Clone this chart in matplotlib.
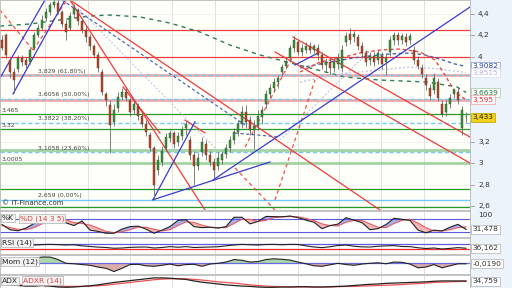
import matplotlib
matplotlib.use("Agg")
import matplotlib.pyplot as plt
import numpy as np
from matplotlib.patches import Rectangle

# ---------------- price data (one candle per session) ----------------
opens = [4.16,4.20,3.97,3.86,3.88,3.99,3.97,3.95,4.08,4.20,
         4.27,4.36,4.42,4.48,4.50,4.42,4.31,4.27,4.40,4.44,
         4.33,4.25,4.18,4.10,4.02,3.86,3.65,3.55,3.39,3.52,
         3.62,3.67,3.59,3.50,3.54,3.44,3.37,3.27,3.14,2.94,
         3.01,3.14,3.24,3.28,3.20,3.26,3.33,3.22,3.08,2.98,
         3.11,3.18,3.08,3.01,2.98,3.03,3.09,3.14,3.22,3.29,
         3.37,3.48,3.41,3.31,3.35,3.43,3.56,3.65,3.71,3.76,
         3.86,3.91,3.99,4.08,4.14,4.04,4.06,4.10,4.06,4.08,
         4.02,3.92,3.95,3.89,3.93,3.89,4.14,4.21,4.18,4.18,
         4.10,4.03,3.97,4.01,3.97,4.01,3.95,4.04,4.16,4.20,
         4.16,4.18,4.16,4.06,3.97,3.89,3.80,3.71,3.69,3.76,
         3.56,3.48,3.56,3.65,3.67,3.33,3.43]
closes = [4.08,4.02,3.86,3.78,3.99,3.95,3.92,4.06,4.20,4.27,
          4.34,4.42,4.48,4.51,4.42,4.31,4.23,4.38,4.46,4.33,
          4.25,4.18,4.10,4.02,3.89,3.67,3.59,3.36,3.50,3.62,
          3.67,3.61,3.48,3.56,3.44,3.37,3.29,3.14,2.80,3.03,
          3.12,3.25,3.28,3.18,3.26,3.31,3.37,3.08,2.98,3.05,
          3.20,3.08,3.01,2.94,3.05,3.09,3.14,3.22,3.29,3.37,
          3.48,3.39,3.31,3.35,3.44,3.50,3.65,3.71,3.76,3.80,
          3.90,3.95,4.08,4.16,4.04,4.08,4.10,4.06,4.10,4.02,
          3.92,3.95,3.89,3.95,3.99,4.06,4.19,4.16,4.21,4.10,
          4.03,3.95,4.01,3.95,4.03,3.93,3.99,4.16,4.20,4.16,
          4.19,4.14,4.19,3.97,3.91,3.84,3.73,3.63,3.80,3.61,
          3.46,3.56,3.61,3.69,3.59,3.50,3.433]
highs = [4.20,4.22,3.99,3.89,4.02,4.02,4.00,4.08,4.23,4.31,
         4.39,4.46,4.51,4.53,4.53,4.44,4.34,4.42,4.49,4.46,
         4.36,4.29,4.21,4.12,4.04,3.88,3.67,3.59,3.56,3.67,
         3.71,3.71,3.61,3.59,3.57,3.48,3.41,3.29,3.16,3.08,
         3.16,3.28,3.31,3.30,3.29,3.35,3.40,3.26,3.12,3.10,
         3.25,3.22,3.12,3.05,3.11,3.12,3.18,3.26,3.33,3.41,
         3.54,3.55,3.44,3.41,3.50,3.54,3.69,3.74,3.80,3.83,
         3.93,3.99,4.11,4.19,4.16,4.12,4.14,4.14,4.12,4.12,
         4.04,3.99,3.99,4.00,4.03,4.11,4.23,4.27,4.24,4.21,
         4.14,4.06,4.04,4.04,4.06,4.04,4.03,4.19,4.23,4.23,
         4.22,4.22,4.22,4.10,4.01,3.93,3.84,3.74,3.85,3.80,
         3.59,3.59,3.65,3.71,3.71,3.54,3.48]
lows = [4.06,3.99,3.80,3.66,3.86,3.91,3.89,3.93,4.06,4.18,
        4.25,4.33,4.39,4.46,4.40,4.28,4.16,4.25,4.36,4.30,
        4.22,4.14,4.06,3.99,3.86,3.64,3.54,3.10,3.35,3.48,
        3.59,3.58,3.44,3.46,3.41,3.34,3.26,3.12,2.66,2.89,
        2.98,3.11,3.20,3.14,3.16,3.22,3.27,3.03,2.80,2.94,
        3.07,3.03,2.98,2.84,2.94,2.99,3.05,3.11,3.18,3.26,
        3.33,3.33,3.27,3.13,3.31,3.37,3.52,3.61,3.67,3.71,
        3.82,3.88,3.95,4.04,4.02,4.01,4.03,4.03,4.03,3.97,
        3.88,3.86,3.84,3.86,3.88,3.86,4.10,4.12,4.14,4.06,
        3.99,3.91,3.92,3.91,3.93,3.88,3.83,4.01,4.11,4.11,
        4.12,4.10,4.12,3.93,3.88,3.80,3.69,3.59,3.65,3.58,
        3.43,3.44,3.52,3.61,3.56,3.27,3.39]

# moving averages: (session index, value)
ma200_idx = [-0.5, 7, 14.5, 22, 27, 34.5, 42, 49.5, 57, 64.5, 71.25, 77, 85.75, 94.5, 106.25, 113.75, 116]
ma200_val = [4.287, 4.306, 4.344, 4.381, 4.390, 4.372, 4.315, 4.231, 4.109, 4.016, 3.950, 3.894, 3.809, 3.781, 3.762, 3.716, 3.664]
ma20_idx = [74.5, 79.5, 84.5, 89.5, 94.5, 99.5, 104.5, 108.25, 110.75, 113.25, 116]
ma20_val = [3.856, 3.950, 3.987, 4.034, 4.062, 4.072, 4.044, 3.969, 3.828, 3.669, 3.595]
ma50_idx = [74.5, 82, 89.5, 97, 102, 105.75, 109.5, 113.25, 116]
ma50_val = [3.894, 3.950, 3.997, 4.025, 4.034, 4.016, 3.978, 3.931, 3.9082]
ma100_idx = [74.5, 84.5, 94.5, 102, 109.5, 116]
ma100_val = [3.762, 3.837, 3.875, 3.903, 3.884, 3.8515]

# horizontal levels
red_levels = [4.25, 4.0]
pink_levels = [3.825, 3.59]
green_levels = [3.465, 3.32, 2.763, 2.595]
light_green_levels = [3.128, 3.0005]
fib_levels = [3.829, 3.6056, 3.3822, 3.1058]
fib_labels = ["3,829 (61,80%)", "3,6056 (50,00%)", "3,3822 (38,20%)", "3,1058 (23,60%)"]
fib_base = 2.659
level_labels = ["3,465", "3,32", "3,0005"]
level_label_vals = [3.465, 3.32, 3.0005]

# drawn trend lines: ((index, price), (index, price))
red_lines = [((17, 4.531), (94.5, 2.563)), ((17, 4.531), (50.75, 2.563)),
             ((72.75, 4.184), (117, 3.247)), ((68.25, 4.044), (117, 3.003)),
             ((30.25, 3.716), (39.5, 3.284)), ((45.75, 3.406), (50.75, 3.285))]
red_dashed = [((-0.5, 4.437), (7.75, 4.062)), ((7.75, 4.062), (16.25, 4.531)),
              ((60.75, 3.153), (72.5, 3.987)), ((68.25, 2.657), (78.25, 3.781)),
              ((58.25, 2.957), (68.25, 2.563))]
blue_lines = [((-0.5, 3.80), (10.75, 4.531)), ((2.75, 3.65), (15.75, 4.531)),
              ((37.75, 2.659), (48.25, 3.39)), ((37.75, 2.659), (67, 3.013)),
              ((52.75, 2.844), (117, 4.465)), ((73.25, 3.922), (79, 4.034))]
blue_dashed = [((15, 4.531), (60.75, 3.36)), ((58.25, 3.284), (69.5, 3.247))]
lav_dotted = [((19.5, 4.437), (53.25, 3.144)), ((69.5, 3.219), (92, 4.06))]

month_starts = [10.75, 21.5, 32, 42.5, 53.25, 64, 74, 84.25, 94.75, 105.5]
price_ticks = [4.4, 4.2, 4.0, 3.2, 3.0, 2.8, 2.6]

# ---------------- indicators (every second session) ----------------
stoch_k = [55,30,25,38,60,80,90,85,63,50, 72,28,22,13,13,33,45,47,33,13,
           28,45,75,78,45,40,42,38,45,90, 90,58,70,94,93,92,96,88,76,66,
           35,50,57,88,76,64,30,35,55,85, 80,75,28,15,28,24,42,56,31.5]
stoch_d = [50,40,32,30,40,58,75,85,78,64, 60,52,38,22,16,20,30,42,42,32,
           24,30,50,68,65,52,42,40,40,60, 80,80,70,75,88,92,93,92,84,74,
           58,50,48,66,75,74,58,42,40,60, 75,80,62,40,24,24,30,40,44]
rsi = [60,50,50,55,62,65,67,65,62,64, 55,50,45,42,36,38,43,45,46,38,
       42,49,44,49,42,44,46,48,55,62, 67,64,62,66,67,64,67,66,55,46,
       41,48,58,62,52,47,46,52,55,57, 50,49,40,34,38,30,35,41,36.2]
mom = [0.15,0.05,0.0,0.1,0.2,0.25,0.25,0.15,0.0,-0.02,
       -0.05,-0.08,-0.15,-0.2,-0.33,-0.2,-0.05,-0.04,-0.1,-0.12,
       -0.08,-0.03,-0.1,-0.05,-0.04,-0.12,-0.03,0.0,0.05,0.15,
       0.12,0.05,0.07,0.15,0.18,0.16,0.13,0.05,-0.02,-0.1,
       -0.12,-0.06,0.0,-0.05,-0.08,-0.03,0.0,0.02,-0.02,0.05,
       0.04,-0.03,-0.18,-0.15,-0.05,-0.18,-0.1,-0.02,-0.019]
adx = [25,22,20,18,18,20,18,15,14,15, 17,19,22,26,30,33,36,39,42,45,
       45,44,42,40,35,31,28,25,22,20, 18,17,15,14,14,15,15,16,16,15,
       15,16,17,18,20,22,24,25,27,28, 29,30,31,32,34,35,35,35,34.76]
adxr = [24,23,22,21,20,20,19,18,17,17, 17,18,19,21,24,27,30,33,36,39,
        41,42,42,42,40,38,35,32,30,28, 25,22,20,18,17,16,15,15,15,15,
        15,15,16,17,17,18,19,20,21,22, 23,25,26,28,30,31,32,33,34]

# ---------------- figure ----------------
W, H = 512, 288
fig = plt.figure(figsize=(W/100, H/100), dpi=100)
fig.patch.set_facecolor('white')
fig.patches.append(Rectangle((470/W, 0), 42/W, 1, transform=fig.transFigure,
                             facecolor='#edf3fa', edgecolor='none', zorder=-1))

def px_axes(top, bottom):
    return fig.add_axes([0, 1 - bottom/H, 470/W, (bottom - top)/H])

XLIM = (-0.5, 117.0)
ax = px_axes(0, 210)
ax_st = px_axes(211, 237)
ax_rsi = px_axes(238, 254)
ax_mom = px_axes(255, 274)
ax_adx = px_axes(275, 288)

for a in (ax, ax_st, ax_rsi, ax_mom, ax_adx):
    a.set_xlim(*XLIM)
    a.set_xticks([])
    a.set_yticks([])
    for s in a.spines.values():
        s.set_color('#b8b8b8')
        s.set_linewidth(0.6)
    for m in month_starts:
        a.axvline(m, color='#dcdcdc', lw=0.6, zorder=0)

ax.set_facecolor('#fffffa')
ax.set_ylim(2.563, 4.531)

n = len(closes)
idx = np.arange(n)
o = np.array(opens); c = np.array(closes)

for p in price_ticks:
    ax.axhline(p, color='#ececec', lw=0.5, zorder=0)

# horizontal levels
for lv in red_levels:
    ax.axhline(lv, color='#ee3b3b', lw=0.9, zorder=1)
for lv in pink_levels:
    ax.axhline(lv, color='#f2a8a8', lw=2.0, zorder=1)
for lv in green_levels:
    ax.axhline(lv, color='#279a27', lw=0.9, zorder=1)
for lv in light_green_levels:
    ax.axhline(lv, color='#a3d3a3', lw=2.0, zorder=1)
for lv in fib_levels:
    ax.axhline(lv, color='#6fcaf5', lw=1.0, ls=(0, (3, 2)), zorder=1.2)
ax.axhline(fib_base, color='#6fcaf5', lw=1.0, zorder=1.2)

# moving averages
ax.plot(ma200_idx, ma200_val, color='#2e7d55', lw=1.0, ls=(0, (3, 3)), zorder=2)
ax.plot(ma100_idx, ma100_val, color='#c4c4ee', lw=1.0, ls=(0, (1.5, 1.5)), zorder=2)
ax.plot(ma50_idx, ma50_val, color='#4a66b4', lw=1.0, ls=(0, (2.5, 2)), zorder=2)
ax.plot(ma20_idx, ma20_val, color='#ee4747', lw=1.0, ls=(0, (2.5, 2)), zorder=2)

# trend lines
for (p0, p1) in red_lines:
    ax.plot([p0[0], p1[0]], [p0[1], p1[1]], color='#ee3b3b', lw=0.9, zorder=2.5)
for (p0, p1) in red_dashed:
    ax.plot([p0[0], p1[0]], [p0[1], p1[1]], color='#ee5050', lw=0.9, ls=(0, (3, 2.5)), zorder=2.5)
for (p0, p1) in blue_lines:
    ax.plot([p0[0], p1[0]], [p0[1], p1[1]], color='#3a3ad0', lw=0.9, zorder=2.5)
for (p0, p1) in blue_dashed:
    ax.plot([p0[0], p1[0]], [p0[1], p1[1]], color='#5068b0', lw=0.9, ls=(0, (2.5, 2)), zorder=2.5)
for (p0, p1) in lav_dotted:
    ax.plot([p0[0], p1[0]], [p0[1], p1[1]], color='#c6c6f0', lw=0.9, ls=(0, (1.5, 1.5)), zorder=2.4)

# candles
ax.vlines(idx, lows, highs, color='#6a6a6a', lw=0.6, zorder=3)
body_bottom = np.minimum(o, c)
body_h = np.maximum(np.abs(c - o), 0.005)
cols = np.where(c >= o, '#2f9e2f', '#c8401c')
ax.bar(idx, body_h, bottom=body_bottom, width=0.62, color=cols,
       edgecolor='#3c3c3c', linewidth=0.3, zorder=4)

# in-chart labels
for lv, lab in zip(fib_levels, fib_labels):
    ax.text(9, lv + 0.012, lab, fontsize=4.4, color='#444444', va='bottom', ha='left', zorder=5)
ax.text(9, fib_base + 0.012, "2,659 (0,00%)", fontsize=4.4, color='#444444', va='bottom', ha='left', zorder=5)
for lv, lab in zip(level_label_vals, level_labels):
    ax.text(0, lv + 0.012, lab, fontsize=4.4, color='#444444', va='bottom', ha='left', zorder=5)
ax.text(0, 2.603, "© IT-Finance.com", fontsize=5.0, color='#333333', va='bottom', ha='left', zorder=5)

# right price axis
ytr = ax.get_yaxis_transform()
for p in price_ticks:
    lab = f"{p:g}".replace('.', ',')
    ax.text(1.017, p, lab, transform=ytr, fontsize=5.4, color='#333333', va='center', ha='left', clip_on=False)
    ax.plot([1.0, 1.008], [p, p], transform=ytr, color='#888888', lw=0.5, clip_on=False)

def tag(a, y, text, fc='white', ec='#b0b0b0', tc='#333333'):
    a.text(1.006, y, text, transform=a.get_yaxis_transform(), fontsize=5.4, color=tc,
           va='center', ha='left', clip_on=False, zorder=10,
           bbox=dict(boxstyle='square,pad=0.2', fc=fc, ec=ec, lw=0.5))

tag(ax, 3.9082, "3,9082", ec='#8a9ad0', tc='#2a44a0')
tag(ax, 3.8515, "3,8515", ec='#d8d8f0', tc='#b4b4e4')
tag(ax, 3.6639, "3,6639", ec='#a0c8a0', tc='#1f7a3a')
tag(ax, 3.595, "3,595", ec='#f0a0a0', tc='#e03030')
tag(ax, 3.433, "3,433", fc='#f2d21a', ec='#b8a000', tc='#222222')

# ---------------- indicator panels ----------------
ox = np.arange(len(stoch_k)) * 2

def panel_label(a, yfrac, parts):
    x = 0.004
    for txt, col, dx in parts:
        a.text(x, yfrac, txt, transform=a.transAxes, fontsize=5.4, color=col, va='center', ha='left', zorder=10,
               bbox=dict(boxstyle='square,pad=0.15', fc='#f3f3f3', ec='#b0b0b0', lw=0.5))
        x += dx

# Stochastic
ax_st.set_ylim(-5, 120)
ax_st.axhline(80, color='#5a5ae0', lw=0.8)
ax_st.axhline(20, color='#5a5ae0', lw=0.8)
k = np.array(stoch_k, float); d = np.array(stoch_d, float)
ax_st.fill_between(ox, k, d, where=k >= d, interpolate=True, color='#a7aef0', lw=0)
ax_st.fill_between(ox, k, d, where=k < d, interpolate=True, color='#f3b6b6', lw=0)
ax_st.plot(ox, d, color='#ee5a5a', lw=0.8)
ax_st.plot(ox, k, color='#222222', lw=0.8)
panel_label(ax_st, 0.72, [("%K", '#222222', 0.038), ("%D (14 3 5)", '#e04040', 0.1)])
ax_st.text(1.017, 100, "100", transform=ax_st.get_yaxis_transform(), fontsize=5.4, color='#333333',
           va='center', ha='left', clip_on=False)
tag(ax_st, 31.478, "31,478")

# RSI
ax_rsi.set_ylim(-10, 118)
ax_rsi.axhline(70, color='#5a5ae0', lw=0.9)
ax_rsi.axhline(30, color='#ee2a2a', lw=0.9)
ax_rsi.plot(ox, rsi, color='#222222', lw=0.8)
panel_label(ax_rsi, 0.72, [("RSI (14)", '#222222', 0.1)])
tag(ax_rsi, 36.162, "36,162")

# Momentum
ax_mom.set_ylim(-0.428, 0.332)
mv = np.array(mom, float)
ax_mom.fill_between(ox, mv, 0, where=mv >= 0, interpolate=True, color='#aad6aa', lw=0)
ax_mom.fill_between(ox, mv, 0, where=mv < 0, interpolate=True, color='#d9adaa', lw=0)
ax_mom.axhline(0, color='#6a6ae6', lw=0.9)
ax_mom.plot(ox, mv, color='#222222', lw=0.8)
panel_label(ax_mom, 0.66, [("Mom (12)", '#222222', 0.1)])
tag(ax_mom, -0.019, "-0,0190")

# ADX
ax_adx.set_ylim(11.7, 54.6)
ax_adx.plot(ox, adxr, color='#ee5050', lw=0.9)
ax_adx.plot(ox, adx, color='#222222', lw=0.9)
panel_label(ax_adx, 0.55, [("ADX", '#222222', 0.045), ("ADXR (14)", '#e04040', 0.1)])
tag(ax_adx, 34.759, "34,759")

fig.savefig("out.png", dpi=100, facecolor=fig.get_facecolor())
